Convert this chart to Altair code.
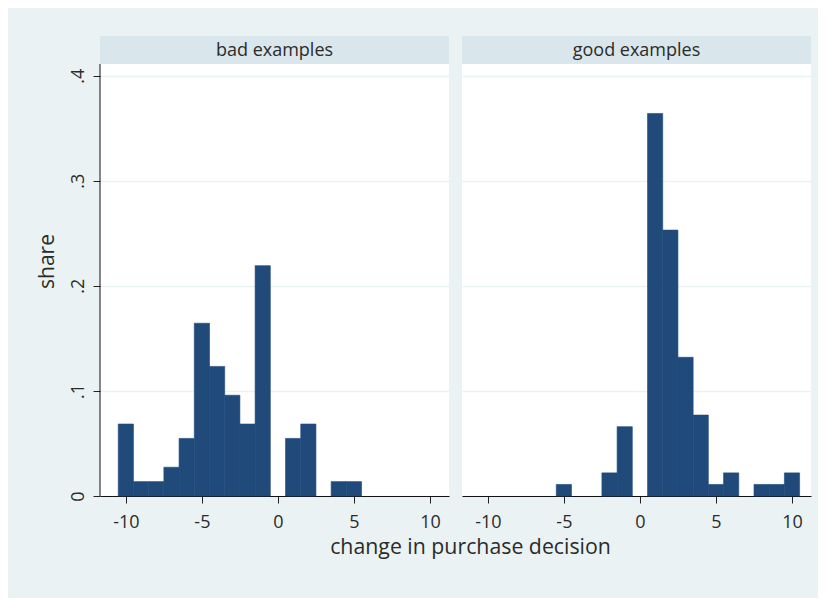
import altair as alt
import pandas as pd

# ---- data ----
panels = ["bad examples", "good examples"]
bad_change = [-10, -9, -8, -7, -6, -5, -4, -3, -2, -1, 1, 2, 4, 5]
bad_share = [0.0685, 0.0137, 0.0137, 0.0274, 0.0548, 0.1644, 0.1233, 0.0959,
             0.0685, 0.2192, 0.0548, 0.0685, 0.0137, 0.0137]
good_change = [-5, -2, -1, 1, 2, 3, 4, 5, 6, 8, 9, 10]
good_share = [0.011, 0.022, 0.066, 0.364, 0.253, 0.132, 0.077, 0.011,
              0.022, 0.011, 0.011, 0.022]
x_ticks = [-10, -5, 0, 5, 10]
y_ticks = [0, 0.1, 0.2, 0.3, 0.4]
x_title = "change in purchase decision"
y_title = "share"

# ---- style ----
FONT = "Open Sans"
BG = "#EAF2F3"
HDR = "#D9E6EB"
GRID = "#EAF2F3"
BAR = "#1F4A7A"
TXT = "#2b2b2b"
W, H = 349, 460
HDR_H = 28

xscale = alt.Scale(domain=[-11.7, 11.25], nice=False, zero=False)
yscale = alt.Scale(domain=[0, 0.4377], nice=False, zero=True)


def panel(name, xs, ys, left):
    df = pd.DataFrame({"change": xs, "share": ys})
    xaxis_kw = dict(
        values=x_ticks, labelExpr="'' + datum.value", tickSize=7,
        tickColor="#222", domainColor="#111", domainWidth=1,
        labelFont=FONT, labelFontSize=18, labelColor=TXT,
        labelBaseline="alphabetic", labelPadding=24, grid=False,
    )
    if left:
        xaxis = alt.Axis(
            title=x_title, titleX=370, titleY=57, titleBaseline="alphabetic",
            titleAlign="center", titleFont=FONT, titleFontSize=21.3,
            titleFontWeight="normal", titleColor=TXT, **xaxis_kw)
        yaxis = alt.Axis(
            values=y_ticks,
            labelExpr="datum.value == 0 ? '0' : '.' + round(datum.value * 10)",
            labelAngle=270, labelAlign="center", labelBaseline="alphabetic",
            labelPadding=10, labelFont=FONT, labelFontSize=18, labelColor=TXT,
            tickSize=7, tickColor="#222", domain=False,
            grid=True, gridColor=GRID, gridWidth=1.5,
            title=y_title, titleAngle=270, titleX=-47, titleY=225,
            titleBaseline="alphabetic", titleAlign="center", titleFont=FONT,
            titleFontSize=21, titleFontWeight="normal", titleColor=TXT)
    else:
        xaxis = alt.Axis(title=None, **xaxis_kw)
        yaxis = alt.Axis(values=y_ticks, labels=False, ticks=False,
                         domain=False, grid=True, gridColor=GRID,
                         gridWidth=1.5, title=None)

    bars = alt.Chart(df).transform_calculate(
        x0="datum.change - 0.5", x1="datum.change + 0.5"
    ).mark_rect(color=BAR, stroke=BAR, strokeWidth=0.6).encode(
        x=alt.X("x0:Q", scale=xscale, axis=xaxis),
        x2="x1:Q",
        y=alt.Y("share:Q", scale=yscale, axis=yaxis),
        y2=alt.Y2(datum=0),
    )
    hdf = pd.DataFrame({"panel": [name]})
    hdr = alt.Chart(hdf).mark_rect(color=HDR).encode(
        x=alt.value(0), x2=alt.value(W), y=alt.value(0), y2=alt.value(HDR_H))
    htxt = alt.Chart(hdf).mark_text(
        font=FONT, fontSize=18, color=TXT, baseline="alphabetic",
        align="center").encode(
        x=alt.value(W / 2), y=alt.value(19.7), text="panel:N")
    layers = [bars, hdr, htxt]
    if left:
        rule = alt.Chart(hdf).mark_rule(color="#111", strokeWidth=1).encode(
            x=alt.value(0), y=alt.value(HDR_H), y2=alt.value(H))
        layers.append(rule)
    return alt.layer(*layers).properties(width=W, height=H)


chart = alt.hconcat(
    panel(panels[0], bad_change, bad_share, True),
    panel(panels[1], good_change, good_share, False),
    spacing=13, bounds="flush",
).resolve_scale(x="independent", y="independent").properties(
    background=BG,
    padding={"left": 28, "top": 28, "right": 7, "bottom": 40},
).configure_view(fill="white", stroke=None)

chart.save("out.html", embed_options={"renderer": "svg", "actions": False})
